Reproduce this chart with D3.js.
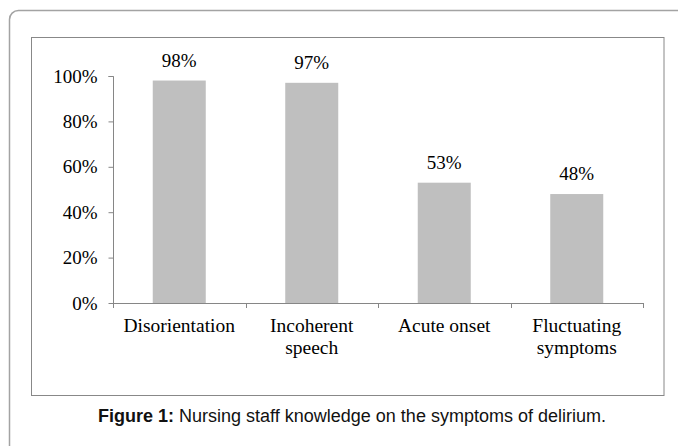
<!DOCTYPE html>
<html>
<head>
<meta charset="utf-8">
<script src="https://cdn.jsdelivr.net/npm/d3@7"></script>
<style>
  body { margin: 0; background: #fff; }
  svg { display: block; }
</style>
</head>
<body>
<svg id="chart" width="678" height="446"></svg>
<script>
// chart data
const categories = [["Disorientation"], ["Incoherent", "speech"], ["Acute onset"], ["Fluctuating", "symptoms"]];
const values = [98, 97, 53, 48];
const yTicks = [0, 20, 40, 60, 80, 100];

const svg = d3.select("#chart");

// outer figure frame (rounded corner, runs off the right and bottom)
svg.append("rect")
    .attr("x", 9.5).attr("y", 10.5)
    .attr("width", 720).attr("height", 480)
    .attr("rx", 9)
    .attr("fill", "none")
    .attr("stroke", "#a3a3a3")
    .attr("stroke-width", 1.5);

// inner chart box
svg.append("rect")
    .attr("x", 31.5).attr("y", 37.5)
    .attr("width", 632.5).attr("height", 358)
    .attr("fill", "#fff")
    .attr("stroke", "#888")
    .attr("stroke-width", 1);

const plot = { left: 113, right: 643, top: 76, bottom: 303 };

const x = d3.scaleBand()
    .domain(d3.range(categories.length))
    .range([plot.left, plot.right])
    .paddingInner(0.6)
    .paddingOuter(0.3);

const y = d3.scaleLinear()
    .domain([0, 100])
    .range([plot.bottom, plot.top]);

const serif = "'Liberation Serif', 'Times New Roman', serif";
const axisColor = "#868686";

// bars
svg.selectAll(".bar")
    .data(values)
    .enter().append("rect")
    .attr("class", "bar")
    .attr("x", (d, i) => x(i))
    .attr("y", d => y(d))
    .attr("width", x.bandwidth())
    .attr("height", d => y(0) - y(d))
    .attr("fill", "#bfbfbf");

// value labels
svg.selectAll(".val")
    .data(values)
    .enter().append("text")
    .attr("class", "val")
    .attr("x", (d, i) => x(i) + x.bandwidth() / 2)
    .attr("y", d => y(d) - 14)
    .attr("text-anchor", "middle")
    .style("font-family", serif)
    .style("font-size", "19px")
    .attr("fill", "#000")
    .text(d => d + "%");

// y axis
const yAxis = svg.append("g")
    .attr("transform", `translate(${plot.left + 0.5},0)`)
    .call(d3.axisLeft(y).tickValues(yTicks).tickSize(5).tickPadding(11).tickFormat(d => d + "%"));
yAxis.select(".domain").attr("stroke", axisColor).attr("d", `M-5,${y(100) + 0.5}H0V${plot.bottom + 5}`);
yAxis.selectAll(".tick line").attr("stroke", axisColor);
yAxis.selectAll(".tick text")
    .style("font-family", serif)
    .style("font-size", "19px")
    .attr("fill", "#000");

// x axis: line with ticks at category boundaries
const step = x.step();
const bounds = d3.range(categories.length + 1).map(i => plot.left + i * step);
svg.append("line")
    .attr("x1", plot.left).attr("x2", plot.right)
    .attr("y1", plot.bottom + 0.5).attr("y2", plot.bottom + 0.5)
    .attr("stroke", axisColor);
svg.selectAll(".xtick")
    .data(bounds)
    .enter().append("line")
    .attr("class", "xtick")
    .attr("x1", d => Math.round(d) + 0.5).attr("x2", d => Math.round(d) + 0.5)
    .attr("y1", plot.bottom).attr("y2", plot.bottom + 5)
    .attr("stroke", axisColor);

// category labels, one text per line so every line keeps the serif face
categories.forEach((lines, i) => {
    svg.selectAll(null)
        .data(lines)
        .enter().append("text")
        .attr("x", x(i) + x.bandwidth() / 2)
        .attr("y", (d, j) => 332 + j * 22)
        .attr("text-anchor", "middle")
        .style("font-family", serif)
        .style("font-size", "19.5px")
        .attr("fill", "#000")
        .text(d => d);
});

// caption
const cap = svg.append("text")
    .attr("x", 352)
    .attr("y", 422)
    .attr("text-anchor", "middle")
    .style("font-family", "'Liberation Sans', Arial, sans-serif")
    .style("font-size", "18px")
    .attr("fill", "#111");
cap.append("tspan").style("font-weight", "bold").text("Figure 1:");
cap.append("tspan").text(" Nursing staff knowledge on the symptoms of delirium.");
</script>
</body>
</html>
